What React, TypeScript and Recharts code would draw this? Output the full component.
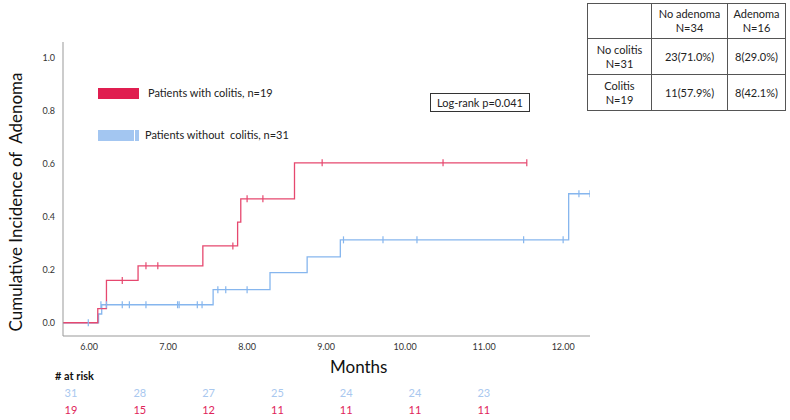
import React from 'react';
import { ComposedChart, Line, Scatter, XAxis, YAxis } from 'recharts';

// step points (time in months, cumulative incidence)
const colitisSteps = [
  { t: 5.67, v: 0 },
  { t: 6.11, v: 0.053 },
  { t: 6.22, v: 0.16 },
  { t: 6.62, v: 0.215 },
  { t: 7.44, v: 0.29 },
  { t: 7.88, v: 0.38 },
  { t: 7.92, v: 0.468 },
  { t: 8.6, v: 0.604 },
  { t: 11.54, v: 0.604 },
];

const noColitisSteps = [
  { t: 5.67, v: 0 },
  { t: 6.12, v: 0.033 },
  { t: 6.16, v: 0.068 },
  { t: 7.57, v: 0.125 },
  { t: 8.29, v: 0.189 },
  { t: 8.76, v: 0.249 },
  { t: 9.18, v: 0.313 },
  { t: 12.07, v: 0.487 },
  { t: 12.34, v: 0.487 },
];

// censored observations
const colitisCensored = [
  { t: 6.42, v: 0.16 },
  { t: 6.72, v: 0.215 },
  { t: 6.87, v: 0.215 },
  { t: 7.82, v: 0.29 },
  { t: 8.0, v: 0.468 },
  { t: 8.2, v: 0.468 },
  { t: 8.95, v: 0.604 },
  { t: 10.48, v: 0.604 },
  { t: 11.54, v: 0.604 },
];

const noColitisCensored = [
  { t: 5.99, v: 0 },
  { t: 6.15, v: 0.068 },
  { t: 6.22, v: 0.068 },
  { t: 6.42, v: 0.068 },
  { t: 6.51, v: 0.068 },
  { t: 6.72, v: 0.068 },
  { t: 7.12, v: 0.068 },
  { t: 7.14, v: 0.068 },
  { t: 7.37, v: 0.068 },
  { t: 7.43, v: 0.068 },
  { t: 7.63, v: 0.125 },
  { t: 7.73, v: 0.125 },
  { t: 8.0, v: 0.125 },
  { t: 9.22, v: 0.313 },
  { t: 9.72, v: 0.313 },
  { t: 10.15, v: 0.313 },
  { t: 11.5, v: 0.313 },
  { t: 12.0, v: 0.313 },
  { t: 12.2, v: 0.487 },
  { t: 12.34, v: 0.487 },
];

const xTicks = [6, 7, 8, 9, 10, 11, 12];
const yTicks = [0, 0.2, 0.4, 0.6, 0.8, 1.0];

const atRiskNoColitis = [31, 28, 27, 25, 24, 24, 23];
const atRiskColitis = [19, 15, 12, 11, 11, 11, 11];

const tableHeader = ['', 'No adenoma\nN=34', 'Adenoma\nN=16'];
const tableRows = [
  ['No colitis\nN=31', '23(71.0%)', '8(29.0%)'],
  ['Colitis\nN=19', '11(57.9%)', '8(42.1%)'],
];

const RED = '#e6486f';
const BLUE = '#86b6ee';
const FONT = 'Lato, "Open Sans", sans-serif';

const censorMark = (color: string) => (props: any) => {
  const { cx, cy } = props;
  if (cx == null || cy == null) return <g />;
  return <line x1={cx} x2={cx} y1={cy - 3.5} y2={cy + 3.5} stroke={color} strokeWidth={1.2} />;
};

const cellStyle: React.CSSProperties = {
  border: '1px solid #555',
  textAlign: 'center',
  whiteSpace: 'pre-line',
  fontSize: 11,
  lineHeight: '14px',
  padding: 0,
  color: '#222',
};

export default function App() {
  return (
    <div style={{ position: 'absolute', left: 0, top: 0, width: 790, height: 420, background: '#fff', fontFamily: FONT }}>
      <ComposedChart
        width={790}
        height={420}
        margin={{ top: 42, right: 200, bottom: 64, left: 0 }}
      >
        <XAxis
          type="number"
          dataKey="t"
          domain={[5.67, 12.34]}
          ticks={xTicks}
          tickFormatter={(v: number) => v.toFixed(2)}
          tickLine={false}
          axisLine={{ stroke: '#999' }}
          tick={{ fill: '#333', fontSize: 9, fontFamily: FONT }}
          height={20}
          allowDataOverflow
        />
        <YAxis
          type="number"
          dataKey="v"
          domain={[-0.05, 1.06]}
          ticks={yTicks}
          tickFormatter={(v: number) => v.toFixed(1)}
          tickLine={false}
          axisLine={{ stroke: '#999' }}
          tick={{ fill: '#333', fontSize: 9, fontFamily: FONT }}
          width={63}
          allowDataOverflow
        />
        <Line
          data={noColitisSteps}
          dataKey="v"
          type="stepAfter"
          stroke={BLUE}
          strokeWidth={1.3}
          dot={false}
          isAnimationActive={false}
        />
        <Line
          data={colitisSteps}
          dataKey="v"
          type="stepAfter"
          stroke={RED}
          strokeWidth={1.3}
          dot={false}
          isAnimationActive={false}
        />
        <Scatter data={noColitisCensored} dataKey="v" shape={censorMark(BLUE)} isAnimationActive={false} />
        <Scatter data={colitisCensored} dataKey="v" shape={censorMark(RED)} isAnimationActive={false} />
      </ComposedChart>

      {/* y axis title */}
      <div
        style={{
          position: 'absolute',
          left: 15,
          top: 202,
          transform: 'translate(-50%, -50%) rotate(-90deg)',
          whiteSpace: 'nowrap',
          fontSize: 17,
          color: '#111',
        }}
      >
        Cumulative Incidence of&nbsp; Adenoma
      </div>

      {/* legend */}
      <div style={{ position: 'absolute', left: 98, top: 88, width: 41, height: 11, background: '#e01e50' }} />
      <div style={{ position: 'absolute', left: 148, top: 86, fontSize: 11, color: '#222' }}>
        Patients with colitis, n=19
      </div>
      <div style={{ position: 'absolute', left: 98, top: 130, width: 36, height: 11, background: '#a3c6f1' }} />
      <div style={{ position: 'absolute', left: 135, top: 130, width: 4, height: 11, background: '#a3c6f1' }} />
      <div style={{ position: 'absolute', left: 145, top: 128, fontSize: 11, color: '#222' }}>
        Patients without&nbsp; colitis, n=31
      </div>

      {/* log-rank box */}
      <div
        style={{
          position: 'absolute',
          left: 430,
          top: 93,
          width: 100,
          height: 19,
          border: '1px solid #333',
          boxSizing: 'border-box',
          fontSize: 11,
          lineHeight: '17px',
          textAlign: 'center',
          color: '#222',
        }}
      >
        Log-rank p=0.041
      </div>

      {/* counts table */}
      <table
        style={{
          position: 'absolute',
          left: 587,
          top: 3,
          width: 198,
          height: 107,
          borderCollapse: 'collapse',
          fontFamily: FONT,
          tableLayout: 'fixed',
        }}
      >
        <colgroup>
          <col style={{ width: 64 }} />
          <col style={{ width: 76 }} />
          <col style={{ width: 58 }} />
        </colgroup>
        <tbody>
          <tr style={{ height: 35 }}>
            {tableHeader.map((h, i) => (
              <td key={i} style={cellStyle}>{h}</td>
            ))}
          </tr>
          {tableRows.map((row, r) => (
            <tr key={r} style={{ height: 36 }}>
              {row.map((c, i) => (
                <td key={i} style={cellStyle}>{c}</td>
              ))}
            </tr>
          ))}
        </tbody>
      </table>

      {/* x axis title */}
      <div style={{ position: 'absolute', left: 330, top: 356, fontSize: 17, color: '#111' }}>Months</div>

      {/* numbers at risk */}
      <div style={{ position: 'absolute', left: 55, top: 369, fontSize: 11, fontWeight: 700, color: '#111' }}># at risk</div>
      {atRiskNoColitis.map((n, i) => (
        <div
          key={'b' + i}
          style={{ position: 'absolute', left: 71 + i * 68.8 - 15, width: 30, top: 386, fontSize: 11, textAlign: 'center', color: '#a9c8ef' }}
        >
          {n}
        </div>
      ))}
      {atRiskColitis.map((n, i) => (
        <div
          key={'r' + i}
          style={{ position: 'absolute', left: 71 + i * 68.8 - 15, width: 30, top: 403, fontSize: 11, textAlign: 'center', color: '#e0245a' }}
        >
          {n}
        </div>
      ))}
    </div>
  );
}
